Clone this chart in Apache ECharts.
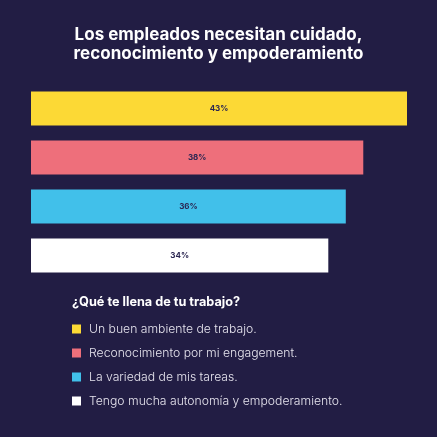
<!DOCTYPE html>
<html>
<head>
<meta charset="utf-8">
<script src="https://cdn.jsdelivr.net/npm/echarts@6/dist/echarts.min.js"></script>
<style>
  html, body { margin: 0; padding: 0; background: #221d44; }
  #main { width: 437px; height: 437px; }
</style>
</head>
<body>
<div id="main"></div>
<script>
const categories = [
  'Un buen ambiente de trabajo.',
  'Reconocimiento por mi engagement.',
  'La variedad de mis tareas.',
  'Tengo mucha autonomía y empoderamiento.'
];
const values = [43, 38, 36, 34];
const colors = ['#fcd935', '#ee6f7b', '#41c0ea', '#ffffff'];

const chart = echarts.init(document.getElementById('main'));

// one series per category so the legend shows each bar
const series = categories.map(function (name, i) {
  return {
    name: name,
    type: 'bar',
    stack: 'total',
    barWidth: 34,
    itemStyle: { color: colors[i] },
    label: {
      show: true,
      position: 'inside',
      formatter: '{c}%',
      color: '#2b2652',
      fontSize: 8,
      fontWeight: 'bold',
      fontFamily: 'Inter'
    },
    data: categories.map(function (c, j) { return j === i ? values[j] : '-'; })
  };
});

var option = {
  backgroundColor: '#221d44',
  title: {
    text: 'Los empleados necesitan cuidado,\nreconocimiento y empoderamiento',
    left: 'center',
    top: 20,
    textStyle: {
      color: '#ffffff',
      fontFamily: 'Inter',
      fontWeight: 'bold',
      fontSize: 17,
      lineHeight: 19
    }
  },
  grid: {
    left: 31,
    right: 30,
    top: 84,
    height: 196
  },
  xAxis: {
    type: 'value',
    min: 0,
    max: 43,
    show: false
  },
  yAxis: {
    type: 'category',
    data: categories,
    inverse: true,
    show: false
  },
  legend: {
    orient: 'vertical',
    left: 72,
    top: 322,
    padding: 0,
    itemWidth: 9,
    itemHeight: 9,
    itemGap: 10,
    icon: 'rect',
    selectedMode: false,
    data: categories,
    textStyle: {
      color: '#e6e4ee',
      fontFamily: 'Inter',
      fontWeight: 300,
      fontSize: 12.2,
      padding: [0, 0, 0, 3],
      lineHeight: 14
    }
  },
  graphic: [{
    type: 'text',
    left: 72,
    top: 296,
    style: {
      text: '¿Qué te llena de tu trabajo?',
      fill: '#ffffff',
      font: 'bold 12.7px Inter'
    }
  }],
  series: series
};

chart.setOption(option, true);
</script>
</body>
</html>
